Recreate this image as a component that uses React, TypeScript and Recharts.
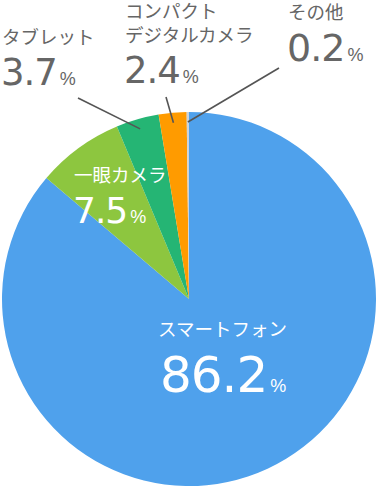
import { Cell, Pie, PieChart } from 'recharts';

const categories = ['スマートフォン', '一眼カメラ', 'タブレット', 'コンパクトデジタルカメラ', 'その他'];
const shares = [86.2, 7.5, 3.7, 2.4, 0.2];
const colors = ['#4fa1ec', '#8dc63f', '#25b574', '#ff9b00', '#c9d3dc'];

// how each label is written / placed (name lines, anchor, text colour, leader line start)
const nameLines = [['スマートフォン'], ['一眼カメラ'], ['タブレット'], ['コンパクト', 'デジタルカメラ'], ['その他']];
const labelLayout = [
  { x: 158, numX: 160, nameY: 336, numY: 392, numSize: 50, fill: '#fff', line: null },
  { x: 74, numX: 73, nameY: 182, numY: 223, numSize: 36, fill: '#fff', line: null },
  { x: 2, numX: 1, nameY: 44, numY: 85, numSize: 37, fill: '#666', line: [78, 98] },
  { x: 125, numX: 124, nameY: 42, numY: 83, numSize: 37, fill: '#666', line: [166, 97] },
  { x: 288, numX: 287, nameY: 19, numY: 61, numSize: 38, fill: '#666', line: [279, 68] },
];

const data = categories.map((name, i) => ({ name, value: shares[i] }));
const RAD = Math.PI / 180;

function renderLabel(props: any) {
  const { cx, cy, midAngle, outerRadius, index } = props;
  const l = labelLayout[index];
  const lines = nameLines[index];
  const r = outerRadius - 10;
  const px = cx + r * Math.cos(-midAngle * RAD);
  const py = cy + r * Math.sin(-midAngle * RAD);
  return (
    <g key={`lbl-${index}`}>
      {l.line ? <line x1={l.line[0]} y1={l.line[1]} x2={px} y2={py} stroke="#555" strokeWidth={1.6} /> : null}
      {lines.map((t, j) => (
        <text
          key={j}
          x={l.x}
          y={l.nameY - (lines.length - 1 - j) * 24}
          fill={l.fill}
          fontSize={18.5}
          fontFamily="'Noto Sans CJK JP', sans-serif"
        >
          {t}
        </text>
      ))}
      <text x={l.numX} y={l.numY} fill={l.fill}>
        <tspan fontSize={l.numSize} fontFamily="'DejaVu Sans', sans-serif" letterSpacing={-1}>
          {shares[index].toFixed(1)}
        </tspan>
        <tspan fontSize={18} dx={3} fontFamily="'Liberation Sans', Arial, sans-serif">%</tspan>
      </text>
    </g>
  );
}

export default function App() {
  return (
    <div style={{ width: 376, height: 488, background: '#fff' }}>
      <style>{'body{margin:0}'}</style>
      <PieChart width={376} height={488} margin={{ top: 0, right: 0, bottom: 0, left: 0 }}>
        <Pie
          data={data}
          dataKey="value"
          nameKey="name"
          cx={189}
          cy={299}
          outerRadius={187}
          startAngle={90}
          endAngle={-270}
          stroke="none"
          label={renderLabel}
          labelLine={false}
          isAnimationActive={false}
        >
          {data.map((d, i) => (
            <Cell key={d.name} fill={colors[i]} />
          ))}
        </Pie>
      </PieChart>
    </div>
  );
}
